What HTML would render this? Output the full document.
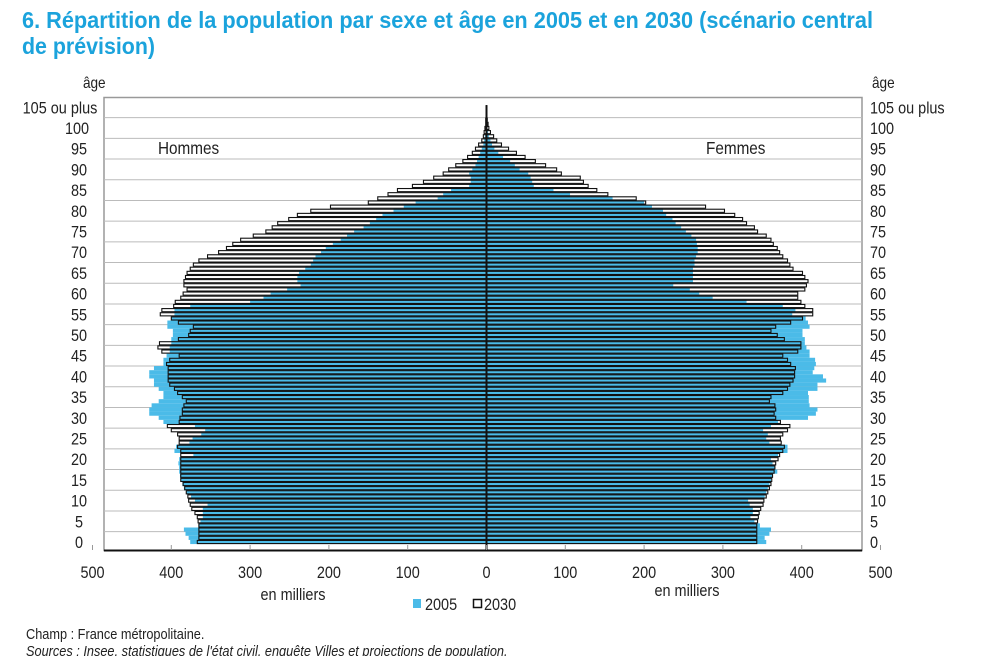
<!DOCTYPE html>
<html><head><meta charset="utf-8">
<style>
html,body{margin:0;padding:0;background:#fff;}
svg{display:block;}
text{font-family:"Liberation Sans",sans-serif;fill:#222;}
</style></head>
<body>
<svg id="chart" width="1000" height="656" viewBox="0 0 1000 656" xmlns="http://www.w3.org/2000/svg">
<text x="22" y="28" font-size="23" font-weight="bold" style="fill:#1ba3dc" textLength="851" lengthAdjust="spacingAndGlyphs">6. Répartition de la population par sexe et âge en 2005 et en 2030 (scénario central</text>
<text x="22" y="54" font-size="23" font-weight="bold" style="fill:#1ba3dc" textLength="133" lengthAdjust="spacingAndGlyphs">de prévision)</text>
<rect x="104" y="97.5" width="758" height="453" fill="none" stroke="#999" stroke-width="1.5"/>
<g id="grid"></g>
<g id="bars"></g>
<g id="axes"></g>
<g transform="scale(0.85,1)">
<text x="97.6" y="88" font-size="16">âge</text>
<text x="1025.9" y="88" font-size="16">âge</text>
<text x="185.9" y="154" font-size="18">Hommes</text>
<text x="830.6" y="154" font-size="18">Femmes</text>
<text x="344.7" y="600" font-size="17" text-anchor="middle">en milliers</text>
<text x="808.2" y="596" font-size="17" text-anchor="middle">en milliers</text>
<text x="500" y="610" font-size="17">2005</text>
<text x="569.4" y="610" font-size="17">2030</text>
<text x="30.6" y="639" font-size="15">Champ : France métropolitaine.</text>
<text x="30.6" y="656" font-size="15" font-style="italic">Sources : Insee, statistiques de l'état civil, enquête Villes et projections de population.</text>
</g>
<g>
<rect x="413" y="599" width="8" height="9" fill="#4bbbe8"/>
<rect x="473.5" y="599.5" width="8" height="8" fill="#fff" stroke="#111" stroke-width="1.5"/>
</g>
</svg>
<script>
const ages = Array.from({length:106},(_, i)=>i);
const men2005 = [376,378,382,384,365,363,360,360,360,354,370,375,381,384,386,388,389,390,390,391,390,372,396,394,377,373,362,357,370,410,416,428,428,425,416,410,410,416,422,422,428,428,422,410,410,406,402,402,400,400,398,398,405,405,400,396,396,376,300,283,274,253,236,240,240,238,230,223,220,217,210,204,195,185,177,168,156,148,140,132,118,105,90,62,55,45,22,20,20,22,18,14,12,10,8,6,4,3,2,1,1,0.5,0.5,0.5,0.5,0.5];
const men2030 = [367,365,365,365,365,366,367,370,374,376,378,379,381,383,385,388,388,388,388,388,388,388,388,392,390,390,392,400,405,390,389,386,386,384,381,386,392,396,402,404,404,404,404,406,402,390,412,417,415,391,378,376,372,391,400,414,412,397,395,388,385,380,384,384,382,380,376,372,365,354,340,330,322,312,296,280,272,265,251,240,223,198,150,138,125,113,94,80,67,55,48,39,30,24,18,14,10,6,4,3,2,1,1,0.5,0.5,0.5];
const women2005 = [355,353,359,361,347,340,335,338,338,334,332,353,355,357,359,361,363,369,366,363,361,370,382,382,359,355,357,351,361,370,408,418,420,410,409,409,408,420,420,431,427,414,416,418,417,410,410,406,404,404,401,401,410,408,405,388,392,376,330,287,270,258,237,262,262,262,262,264,264,266,268,268,267,266,260,253,247,240,236,228,224,210,200,160,106,85,60,58,56,53,42,36,30,21,15,10,7,5,3,2,1,0.5,0.5,0.5,0.5,0.5];
const women2030 = [343,343,343,343,343,344,345,346,348,351,352,355,357,359,361,362,363,365,366,367,370,372,376,378,374,373,376,382,385,373,367,365,367,366,359,361,376,382,385,389,391,391,392,386,382,376,395,399,399,378,369,361,367,386,401,414,414,404,399,395,395,404,406,408,404,401,389,385,382,376,372,369,364,361,355,344,340,330,325,315,302,278,202,190,154,140,129,123,119,95,89,75,62,49,38,28,19,13,9,5,3,2,1,0.5,0.5,0.5];
const xTicks = [500,400,300,200,100,0,100,200,300,400,500];
const xTickSide = [-1,-1,-1,-1,-1,0,1,1,1,1,1];
const ageTicks = [0,5,10,15,20,25,30,35,40,45,50,55,60,65,70,75,80,85,90,95,100,105];

const NS = "http://www.w3.org/2000/svg";
const CX = 486.5, K = 0.788, Y0 = 542, RH = 4.14, SX = 0.85;
function xL(v){ return CX - v*K; }
function xR(v){ return CX + v*K; }
function yA(a){ return Y0 - a*RH; }
function mk(tag, attrs, parent){ const e=document.createElementNS(NS,tag); for(const k in attrs) e.setAttribute(k,attrs[k]); parent.appendChild(e); return e; }

const grid = document.getElementById('grid');
for (let a = 2.5; a < 105; a += 5) {
  const g = mk('line',{x1:104,x2:862,y1:yA(a),y2:yA(a),stroke:'#bbb','stroke-width':1},grid);
  
  
}
const bars = document.getElementById('bars');
const h = RH;
ages.forEach((a,i)=>{
  const y = yA(a) - h/2;
  const m30 = mk('rect',{x:xL(men2030[i]),y:y,width:men2030[i]*K,height:h,fill:'#fff'},bars);
  
  
  const f30 = mk('rect',{x:CX,y:y,width:women2030[i]*K,height:h,fill:'#fff'},bars);
  
  
});
ages.forEach((a,i)=>{
  const y = yA(a) - h/2;
  const m05 = mk('rect',{x:xL(men2005[i]),y:y,width:men2005[i]*K,height:h,fill:'#4bbbe8'},bars);
  
  
  const f05 = mk('rect',{x:CX,y:y,width:women2005[i]*K,height:h,fill:'#4bbbe8'},bars);
  
  
});
ages.forEach((a,i)=>{
  const y = yA(a) - h/2 + 0.5;
  const m = mk('rect',{x:xL(men2030[i]),y:y,width:men2030[i]*K,height:h-1,fill:'none',stroke:'#111','stroke-width':1.1},bars);
  
  
  const f = mk('rect',{x:CX,y:y,width:women2030[i]*K,height:h-1,fill:'none',stroke:'#111','stroke-width':1.1},bars);
  
  
});
const axes = document.getElementById('axes');
const cl = mk('line',{x1:CX,x2:CX,y1:yA(105)-2,y2:551,stroke:'#111','stroke-width':2},axes);


const bl = mk('line',{x1:104,x2:862,y1:550.5,y2:550.5,stroke:'#111','stroke-width':2},axes);


const lab = mk('g',{transform:'scale('+SX+',1)'},axes);
xTicks.forEach((v,i)=>{
  const x = xTickSide[i] < 0 ? xL(v) : xR(v);
  const t = mk('text',{x:x/SX,y:578,'font-size':17,'text-anchor':'middle'},lab);
  t.textContent = String(v);
  
  
  const tk = mk('line',{x1:x,x2:x,y1:545,y2:550,stroke:'#999','stroke-width':1},axes);
  
  
});
ageTicks.forEach(a=>{
  const y = yA(a) + 6;
  const lbl = a === 105 ? '105 ou plus' : String(a);
  const lx = a===105 ? 60 : (a===100 ? 77 : 79);
  const l = mk('text',{x: lx/SX, y:y,'font-size':17,'text-anchor':'middle'},lab);
  l.textContent = lbl;
  
  
  const r = mk('text',{x:870/SX,y:y,'font-size':17},lab);
  r.textContent = lbl;
  
  
});
</script>
</body></html>
